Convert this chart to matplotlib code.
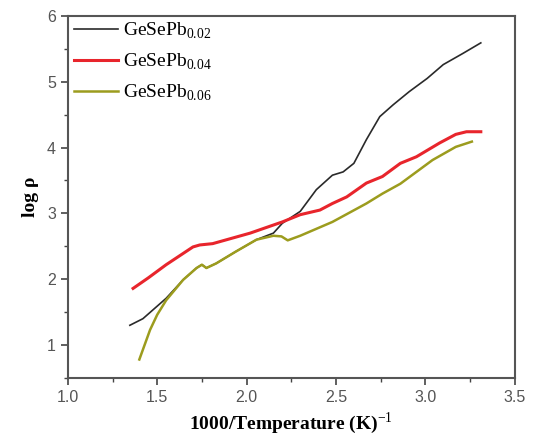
import numpy as np
import matplotlib.pyplot as plt
from matplotlib.ticker import MultipleLocator

plt.rcParams['font.family'] = ['Liberation Serif']
plt.rcParams['mathtext.fontset'] = 'custom'
plt.rcParams['mathtext.rm'] = 'Liberation Serif'

# data
x_002 = [1.347, 1.42, 1.55, 1.645, 1.72, 1.75, 1.775, 1.83, 1.94, 2.055, 2.15, 2.20, 2.30, 2.39,
         2.48, 2.54, 2.60, 2.67, 2.745, 2.82, 2.91, 3.01, 3.10, 3.21, 3.31]
y_002 = [1.30, 1.40, 1.71, 1.99, 2.17, 2.22, 2.17, 2.24, 2.42, 2.60, 2.70, 2.85, 3.03, 3.36,
         3.58, 3.63, 3.76, 4.12, 4.47, 4.65, 4.85, 5.05, 5.26, 5.43, 5.59]

x_004 = [1.365, 1.45, 1.55, 1.70, 1.738, 1.81, 2.02, 2.20, 2.30, 2.41, 2.48, 2.56, 2.67,
         2.76, 2.86, 2.95, 3.08, 3.17, 3.23, 3.31]
y_004 = [1.86, 2.02, 2.22, 2.49, 2.52, 2.54, 2.70, 2.87, 2.98, 3.05, 3.15, 3.25, 3.46,
         3.56, 3.76, 3.86, 4.07, 4.20, 4.24, 4.24]

x_006 = [1.40, 1.46, 1.50, 1.55, 1.645, 1.72, 1.75, 1.775, 1.83, 1.94, 2.055, 2.15, 2.195,
         2.23, 2.30, 2.48, 2.67, 2.76, 2.86, 3.04, 3.17, 3.26]
y_006 = [0.78, 1.23, 1.46, 1.68, 1.99, 2.17, 2.22, 2.17, 2.24, 2.42, 2.60, 2.66, 2.65,
         2.59, 2.66, 2.87, 3.15, 3.30, 3.45, 3.81, 4.01, 4.09]

labels = ['GeSePb$_{\\mathrm{0.02}}$', 'GeSePb$_{\\mathrm{0.04}}$', 'GeSePb$_{\\mathrm{0.06}}$']

fig = plt.figure(figsize=(5.34, 4.41), dpi=100)
ax = fig.add_axes([0.127, 0.143, 0.837, 0.821])

ax.plot(x_002, y_002, color='#2a2a2a', lw=1.2, label=labels[0])
ax.plot(x_004, y_004, color='#e8252c', lw=2.2, label=labels[1])
ax.plot(x_006, y_006, color='#9c9c1e', lw=1.8, label=labels[2])

ax.set_xlim(1.0, 3.5)
ax.set_ylim(0.5, 6)
ax.xaxis.set_major_locator(MultipleLocator(0.5))
ax.xaxis.set_minor_locator(MultipleLocator(0.25))
ax.yaxis.set_major_locator(MultipleLocator(1))
ax.yaxis.set_minor_locator(MultipleLocator(0.5))
ax.tick_params(which='both', direction='out', top=False, right=False, colors='#444444',
               labelcolor='#555555')
ax.tick_params(which='major', length=5, width=1.2, labelsize=11.5)
ax.tick_params(which='minor', length=3, width=1.0)
for lab in ax.get_xticklabels() + ax.get_yticklabels():
    lab.set_family('Liberation Sans')
for s in ax.spines.values():
    s.set_color('#555555')
    s.set_linewidth(1.5)

ax.set_xlabel('1000/Temperature (K)$^{\\mathrm{-1}}$', fontsize=14, fontweight='bold', labelpad=4)
ax.set_ylabel('log ρ', fontsize=14, fontweight='bold', labelpad=6)

ax.legend(loc='upper left', bbox_to_anchor=(-0.026, 1.036), frameon=False, fontsize=14,
          handlelength=2.3, handletextpad=0.25, labelspacing=0.55)

plt.savefig('out.png', dpi=100)
